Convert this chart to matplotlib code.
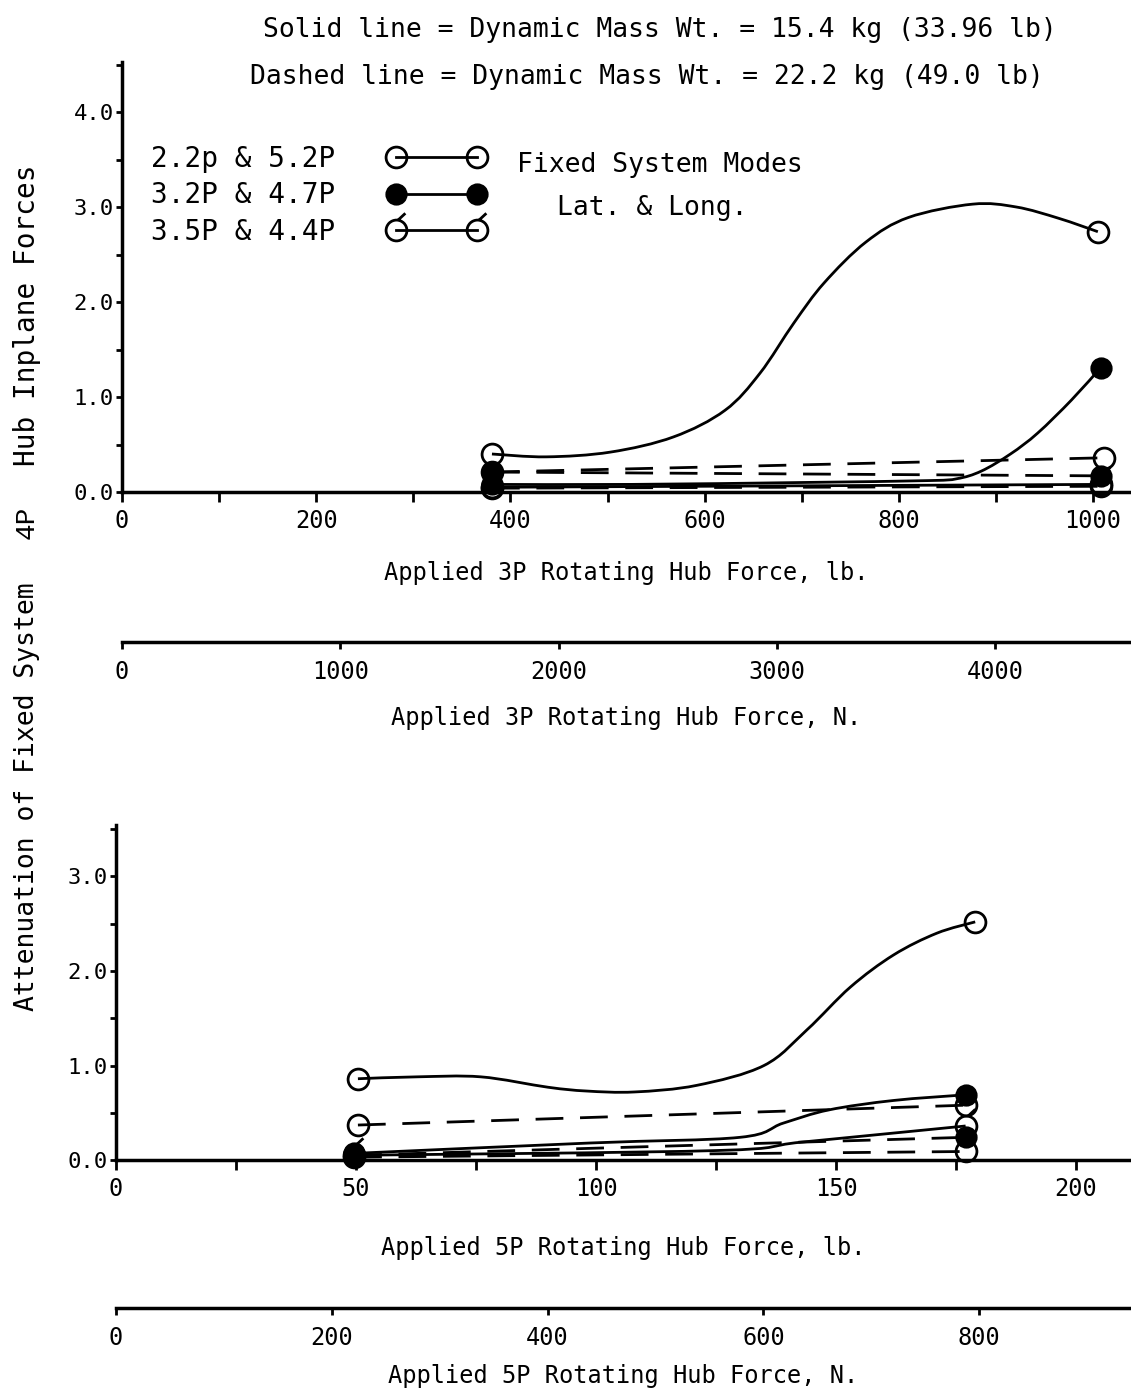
import numpy as np
import matplotlib
matplotlib.use("Agg")
import matplotlib.pyplot as plt
from matplotlib.path import Path
from matplotlib.patches import PathPatch
from matplotlib.lines import Line2D
from matplotlib.ticker import MultipleLocator, FixedLocator, FormatStrFormatter

#==============================================================================
# Data
#==============================================================================
LB_TO_N = 4.448

# top panel: applied 3P rotating hub force, lb
p3_open_solid_x = [381, 437, 503, 568, 621, 657, 692, 723, 766, 810, 876, 921, 965, 1005]
p3_open_solid_y = [0.40, 0.37, 0.42, 0.58, 0.86, 1.25, 1.78, 2.20, 2.63, 2.89, 3.03, 3.00, 2.88, 2.74]
p3_open_dash_x = [381, 1011]
p3_open_dash_y = [0.21, 0.36]
p3_fill_solid_x = [381, 524, 700, 830, 860, 885, 915, 943, 978, 1008]
p3_fill_solid_y = [0.08, 0.08, 0.10, 0.12, 0.14, 0.22, 0.40, 0.62, 0.97, 1.31]
p3_fill_dash_x = [381, 1008]
p3_fill_dash_y = [0.21, 0.17]
p3_check_solid_x = [381, 1008]
p3_check_solid_y = [0.05, 0.08]
p3_check_dash_x = [381, 1008]
p3_check_dash_y = [0.04, 0.06]

# bottom panel: applied 5P rotating hub force, lb
p5_open_solid_x = [50.4, 62.7, 76, 90, 98, 108, 121, 135, 144, 153, 162, 171, 179]
p5_open_solid_y = [0.86, 0.88, 0.88, 0.77, 0.73, 0.72, 0.79, 1.00, 1.38, 1.83, 2.17, 2.40, 2.52]
p5_open_dash_x = [50.4, 177]
p5_open_dash_y = [0.37, 0.58]
p5_fill_solid_x = [49.6, 98.8, 130, 139, 148.5, 162, 177]
p5_fill_solid_y = [0.07, 0.18, 0.24, 0.39, 0.53, 0.63, 0.69]
p5_fill_dash_x = [49.6, 177]
p5_fill_dash_y = [0.05, 0.24]
p5_check_solid_x = [49.6, 125, 143, 177]
p5_check_solid_y = [0.05, 0.10, 0.19, 0.36]
p5_check_dash_x = [49.6, 177]
p5_check_dash_y = [0.03, 0.09]

lb_ticks_3p = [0, 200, 400, 600, 800, 1000]
n_ticks_3p = [0, 1000, 2000, 3000, 4000]
lb_ticks_5p = [0, 50, 100, 150, 200]
n_ticks_5p = [0, 200, 400, 600, 800]

legend_labels = ["2.2p & 5.2P", "3.2P & 4.7P", "3.5P & 4.4P"]

#==============================================================================
# Styles
#==============================================================================
MONO = "DejaVu Sans Mono"
plt.rcParams['font.family'] = MONO
plt.rcParams['lines.scale_dashes'] = True

LW = 2.0
MS = 15
DASH = (0, (10, 6))


def check_marker():
    circ = Path.unit_circle()
    verts = np.concatenate([circ.vertices, [[0.15, 1.0], [0.85, 1.65]]])
    codes = np.concatenate([circ.codes, [Path.MOVETO, Path.LINETO]])
    return Path(verts, codes)


CHECK = check_marker()
MARKERS = {
    'open': dict(marker='o', mfc='none', mec='k', ms=MS, mew=LW),
    'fill': dict(marker='o', mfc='k', mec='k', ms=MS - 1, mew=LW),
    'check': dict(marker=CHECK, mfc='none', mec='k', ms=MS * 1.65, mew=LW),
}


def smooth_path(x, y):
    '''Curve through the read points, drawn as cubic Bezier pieces.'''
    p = np.column_stack([x, y]).astype(float)
    if len(p) < 3:
        return Path(p)
    ext = np.vstack([p[0], p, p[-1]])
    verts = [p[0]]
    codes = [Path.MOVETO]
    for i in range(len(p) - 1):
        p0, p1, p2, p3 = ext[i], ext[i + 1], ext[i + 2], ext[i + 3]
        verts += [p1 + (p2 - p0) / 6, p2 - (p3 - p1) / 6, p2]
        codes += [Path.CURVE4] * 3
    return Path(verts, codes)


def series(ax, x, y, kind, dashed=False):
    ax.add_patch(PathPatch(smooth_path(x, y), fill=False, edgecolor='k',
                           lw=LW, ls=DASH if dashed else '-', clip_on=False))
    ax.plot([x[0], x[-1]], [y[0], y[-1]], ls='none', clip_on=False,
            **MARKERS[kind])


def style_axes(ax, xmax, ymax, xmajor, xminor, xlabel):
    ax.set_xlim(0, xmax)
    ax.set_ylim(0, ymax)
    for s in ['top', 'right']:
        ax.spines[s].set_visible(False)
    for s in ['left', 'bottom']:
        ax.spines[s].set_linewidth(2.5)
    ax.xaxis.set_major_locator(FixedLocator(xmajor))
    ax.xaxis.set_minor_locator(MultipleLocator(xminor))
    ax.yaxis.set_major_locator(MultipleLocator(1.0))
    ax.yaxis.set_minor_locator(MultipleLocator(0.5))
    ax.yaxis.set_major_formatter(FormatStrFormatter('%.1f'))
    ax.tick_params(axis='both', which='both', direction='out', width=2)
    ax.tick_params(axis='x', which='major', length=7, pad=5, labelsize=17)
    ax.tick_params(axis='x', which='minor', length=7)
    ax.tick_params(axis='y', which='major', length=4, pad=2, labelsize=16)
    ax.tick_params(axis='y', which='minor', length=4)
    ax.set_xlabel(xlabel, fontsize=17)


def n_axis(ax, loc, ticks, xlabel, labelpad):
    sec = ax.secondary_xaxis(loc, functions=(lambda v: v * LB_TO_N,
                                             lambda v: v / LB_TO_N))
    sec.spines['bottom'].set_linewidth(2.5)
    sec.xaxis.set_major_locator(FixedLocator(ticks))
    sec.tick_params(axis='x', direction='out', length=5, width=2, pad=8,
                    labelsize=17)
    sec.set_xlabel(xlabel, fontsize=17, labelpad=labelpad)
    return sec


#==============================================================================
# Figure
#==============================================================================
W, H = 1131, 1391
fig = plt.figure(figsize=(W / 100, H / 100), dpi=100)


def fx(px):
    return px / W


def fy(py):
    return 1 - py / H


# top panel
ax1 = fig.add_axes([fx(122), fy(492), fx(W - 122), fy(62) - fy(492)])
style_axes(ax1, (W - 122) / 0.971, (492 - 62) / 95.0, lb_ticks_3p, 100,
           "Applied 3P Rotating Hub Force, lb.")
ax1.xaxis.set_label_coords(0.5, -(561 - 492) / 430)
series(ax1, p3_open_solid_x, p3_open_solid_y, 'open')
series(ax1, p3_open_dash_x, p3_open_dash_y, 'open', dashed=True)
series(ax1, p3_fill_solid_x, p3_fill_solid_y, 'fill')
series(ax1, p3_fill_dash_x, p3_fill_dash_y, 'fill', dashed=True)
series(ax1, p3_check_solid_x, p3_check_solid_y, 'check')
series(ax1, p3_check_dash_x, p3_check_dash_y, 'open', dashed=True)
n_axis(ax1, -(642 - 492) / 430, n_ticks_3p,
       "Applied 3P Rotating Hub Force, N.", 16)

# bottom panel
ax2 = fig.add_axes([fx(116), fy(1160), fx(W - 116), fy(825) - fy(1160)])
style_axes(ax2, (W - 116) / 4.8, (1160 - 825) / 94.5, lb_ticks_5p, 25,
           "Applied 5P Rotating Hub Force, lb.")
ax2.xaxis.set_label_coords(0.5, -(1236 - 1160) / 335)
series(ax2, p5_open_solid_x, p5_open_solid_y, 'open')
series(ax2, p5_open_dash_x, p5_open_dash_y, 'open', dashed=True)
series(ax2, p5_fill_solid_x, p5_fill_solid_y, 'fill')
series(ax2, p5_fill_dash_x, p5_fill_dash_y, 'fill', dashed=True)
series(ax2, p5_check_solid_x, p5_check_solid_y, 'check')
series(ax2, p5_check_dash_x, p5_check_dash_y, 'open', dashed=True)
n_axis(ax2, -(1308 - 1160) / 335, n_ticks_5p,
       "Applied 5P Rotating Hub Force, N.", 10)

# legend: label first, then the marker-line-marker sample
handles = [Line2D([], [], color='k', lw=LW, **MARKERS[k])
           for k in ['open', 'fill', 'check']]
ax1.legend(handles, legend_labels, markerfirst=False, numpoints=2,
           frameon=False, fontsize=20, handlelength=3.5, handletextpad=1.9,
           labelspacing=0.3, borderpad=0, borderaxespad=0,
           loc='upper left', bbox_to_anchor=(fx(151), fy(145)),
           bbox_transform=fig.transFigure)
fig.text(fx(517), fy(165), "Fixed System Modes", fontsize=19, va='center')
fig.text(fx(557), fy(208), "Lat. & Long.", fontsize=19, va='center')

# header lines
fig.text(fx(660), fy(30), "Solid line = Dynamic Mass Wt. = 15.4 kg (33.96 lb)",
         fontsize=19, ha='center', va='center')
fig.text(fx(647), fy(77), "Dashed line = Dynamic Mass Wt. = 22.2 kg (49.0 lb)",
         fontsize=19, ha='center', va='center')

# shared rotated y label
fig.text(fx(27), fy(315), "Hub Inplane Forces", fontsize=20, rotation=90,
         ha='center', va='center')
fig.text(fx(27), fy(522), "4P", fontsize=20, rotation=90, ha='center',
         va='center', family="Liberation Mono")
fig.text(fx(27), fy(797), "Attenuation of Fixed System", fontsize=19,
         rotation=90, ha='center', va='center')

fig.savefig("out.png", dpi=100)
plt.close(fig)
